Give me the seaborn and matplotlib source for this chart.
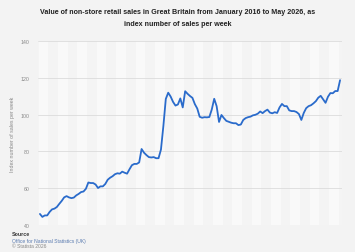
"""
Non-store retail sales index, Great Britain, Jan 2016 - May 2026
"""
import pandas as pd
import matplotlib
matplotlib.use("Agg")
import matplotlib.pyplot as plt
import seaborn as sns

# monthly index values (Jan 2016 .. May 2026)
sales_index = [
    46.0, 44.4, 45.2, 45.2, 47.1, 48.5, 48.9, 49.8, 51.5, 53.1, 55.0, 55.7,
    55.0, 54.6, 54.9, 56.1, 56.9, 57.9, 58.2, 59.7, 63.1, 62.8, 62.8, 62.0,
    60.1, 61.0, 61.0, 62.3, 64.6, 65.7, 66.5, 67.6, 68.1, 67.9, 69.0, 68.4,
    67.9, 70.3, 72.5, 73.2, 73.2, 74.0, 81.3, 79.3, 78.0, 76.9, 76.7, 76.9,
    76.3, 76.3, 81.0, 93.8, 108.5, 111.9, 109.8, 106.9, 104.9, 105.5, 108.8, 103.9,
    112.7, 111.3, 110.1, 109.1, 105.7, 103.3, 98.8, 98.3, 98.6, 98.5, 98.7, 102.8,
    108.6, 104.6, 96.0, 99.8, 98.1, 96.6, 96.1, 95.6, 95.3, 95.3, 94.3, 94.6,
    97.1, 98.1, 98.6, 98.9, 99.6, 99.9, 100.5, 101.7, 100.8, 101.9, 102.7, 101.1,
    100.7, 101.3, 100.9, 103.9, 105.8, 104.6, 104.6, 102.3, 101.9, 101.9, 101.4, 100.3,
    97.1, 100.9, 103.5, 104.6, 105.1, 106.1, 107.3, 109.2, 110.2, 108.3, 106.4, 109.7,
    111.7, 111.6, 112.8, 112.8, 118.7,
]
months = pd.date_range("2016-01-01", periods=len(sales_index), freq="MS")
y_ticks = [40, 60, 80, 100, 120, 140]

df = pd.DataFrame({"month": range(len(months)), "date": months, "index": sales_index})

sns.set_style("white")
plt.rcParams["font.family"] = ["Liberation Sans", "DejaVu Sans"]

fig = plt.figure(figsize=(3.55, 2.53), dpi=100, facecolor="#f3f3f3")
ax = fig.add_axes([38 / 355, 1 - 226 / 253, 304 / 355, 184 / 253])
ax.set_facecolor("#f4f4f4")

# alternating light bands, as in the original
for start in range(0, len(months), 8):
    ax.axvspan(start - 0.5, start + 3.5, color="#f9f9f9", lw=0, zorder=0)

for t in y_ticks:
    ax.axhline(t, color="#dcdcdc", lw=0.6, zorder=1)

sns.lineplot(data=df, x="month", y="index", ax=ax, color="#2a6bcb", lw=1.3, zorder=3)

ax.set_xlim(-0.8, len(months) - 0.2)
ax.set_ylim(40, 140)
ax.set_yticks(y_ticks)
ax.set_yticklabels([str(t) for t in y_ticks], fontsize=3.8, color="#888888")
ax.set_xticks([])
ax.tick_params(axis="y", length=0, pad=6)
ax.set_xlabel("")
ax.set_ylabel("Index number of sales per week", fontsize=3.8, color="#888888", labelpad=4)
for s in ax.spines.values():
    s.set_visible(False)

fig.text(0.5, 1 - 13 / 253, "Value of non-store retail sales in Great Britain from January 2016 to May 2026, as",
         ha="center", va="center", fontsize=5.1, fontweight="bold", color="#222222")
fig.text(0.5, 1 - 24 / 253, "index number of sales per week",
         ha="center", va="center", fontsize=5.1, fontweight="bold", color="#222222")

fig.text(12 / 355, 1 - 235 / 253, "Source", fontsize=3.8, fontweight="bold", color="#333333", va="center")
fig.text(12 / 355, 1 - 241 / 253, "Office for National Statistics (UK)", fontsize=3.6, color="#5a7bb0", va="center")
fig.text(12 / 355, 1 - 246.5 / 253, "© Statista 2026", fontsize=3.6, color="#888888", va="center")

fig.savefig("out.png", dpi=100, facecolor=fig.get_facecolor())
